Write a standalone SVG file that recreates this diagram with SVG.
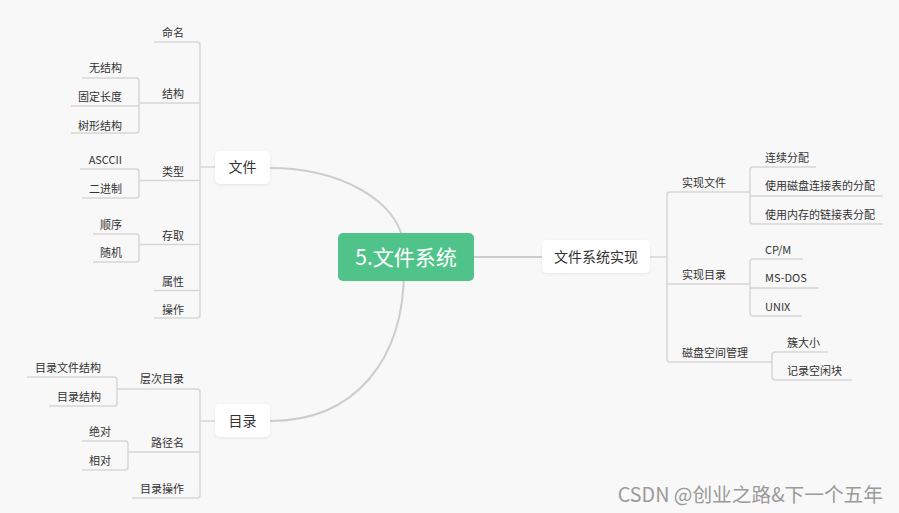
<svg xmlns="http://www.w3.org/2000/svg" width="899" height="513" viewBox="0 0 899 513">
<defs>
<style>
.bg{fill:#f8f8f8}
.ln{fill:none;stroke:#d6d6d6;stroke-width:1.5}
.cv{fill:none;stroke:#cdcdcd;stroke-width:2}
.box{fill:#ffffff}
.t{font-family:"Noto Sans CJK SC","Microsoft YaHei",sans-serif;font-size:11px;fill:#333333}
.tm{font-family:"Noto Sans CJK SC","Microsoft YaHei",sans-serif;font-size:14px;fill:#333333}
.tr{font-family:"Noto Sans CJK SC","Microsoft YaHei",sans-serif;font-size:21px;fill:#ffffff}
.e{text-anchor:end}
.wm{font-family:"Noto Sans CJK SC","Microsoft YaHei",sans-serif;font-size:19.7px;fill:#9a9a9a}
</style>
<filter id="sh" x="-20%" y="-30%" width="140%" height="160%">
<feDropShadow dx="0" dy="1" stdDeviation="1.5" flood-color="#000" flood-opacity="0.08"/>
</filter>
</defs>
<rect class="bg" x="0" y="0" width="899" height="513"/>

<g id="connectors">
<path class="cv" d="M270,168 C340,168 395,200 403,240"/>
<path class="cv" d="M404,270 C404,360 355,421 270,421"/>
<path class="cv" d="M474,257 H542"/>
<path class="ln" d="M154,42 H197 Q200,42 200,45 V315 Q200,318 197,318 H154"/>
<path class="ln" d="M200,167 H215"/>
<path class="ln" d="M139,103 H200"/>
<path class="ln" d="M139,180.5 H200"/>
<path class="ln" d="M139,244.5 H200"/>
<path class="ln" d="M154,290.5 H200"/>
<path class="ln" d="M82,78 H136 Q139,78 139,81 V130 Q139,133 136,133 H71"/>
<path class="ln" d="M71,106 H139"/>
<path class="ln" d="M80,169 H136 Q139,169 139,172 V195 Q139,198 136,198 H82"/>
<path class="ln" d="M93,234 H136 Q139,234 139,237 V259 Q139,262 136,262 H93"/>
<path class="ln" d="M133,389 H197 Q200,389 200,392 V495 Q200,498 197,498 H132"/>
<path class="ln" d="M200,421 H215"/>
<path class="ln" d="M128,452 H200"/>
<path class="ln" d="M117,389 H133"/>
<path class="ln" d="M27,377 H114 Q117,377 117,380 V403 Q117,406 114,406 H49"/>
<path class="ln" d="M82,441 H125 Q128,441 128,444 V467 Q128,470 125,470 H82"/>
<path class="ln" d="M650,257 H667"/>
<path class="ln" d="M750,192 H670 Q667,192 667,195 V359 Q667,362 670,362 H772"/>
<path class="ln" d="M667,284 H750"/>
<path class="ln" d="M816,167 H753 Q750,167 750,170 V221 Q750,224 753,224 H883"/>
<path class="ln" d="M750,196 H883"/>
<path class="ln" d="M803,259 H753 Q750,259 750,262 V313 Q750,316 753,316 H802"/>
<path class="ln" d="M750,288 H819"/>
<path class="ln" d="M828,352 H775 Q772,352 772,355 V377 Q772,380 775,380 H852"/>
</g>

<g id="root">
<rect x="338" y="233" width="136" height="48" rx="5" fill="#50c38b"/>
<text class="tr" x="406" y="264.5" text-anchor="middle">5.文件系统</text>
</g>

<g id="n-wenjian">
<rect class="box" x="215" y="151" width="55" height="33" rx="5" filter="url(#sh)"/>
<text class="tm" x="242.5" y="172" text-anchor="middle">文件</text>
</g>
<g id="n-mulu">
<rect class="box" x="215" y="404" width="55" height="33" rx="5" filter="url(#sh)"/>
<text class="tm" x="242.5" y="426" text-anchor="middle">目录</text>
</g>
<g id="n-shixian">
<rect class="box" x="542" y="240" width="108" height="33" rx="5" filter="url(#sh)"/>
<text class="tm" x="596" y="261.5" text-anchor="middle">文件系统实现</text>
</g>

<g id="n-mingming"><text class="t e" x="184" y="37">命名</text></g>
<g id="n-jiegou"><text class="t e" x="184" y="98">结构</text></g>
<g id="n-wujiegou"><text class="t e" x="122" y="72">无结构</text></g>
<g id="n-guding"><text class="t e" x="122" y="101">固定长度</text></g>
<g id="n-shuxing"><text class="t e" x="122" y="130">树形结构</text></g>
<g id="n-leixing"><text class="t e" x="184" y="176">类型</text></g>
<g id="n-ascii"><text class="t e" x="122" y="164">ASCCII</text></g>
<g id="n-erjinzhi"><text class="t e" x="122" y="193">二进制</text></g>
<g id="n-cunqu"><text class="t e" x="184" y="240">存取</text></g>
<g id="n-shunxu"><text class="t e" x="122" y="229">顺序</text></g>
<g id="n-suiji"><text class="t e" x="122" y="257">随机</text></g>
<g id="n-shuxing2"><text class="t e" x="184" y="286">属性</text></g>
<g id="n-caozuo"><text class="t e" x="184" y="314">操作</text></g>

<g id="n-cengci"><text class="t e" x="184" y="383">层次目录</text></g>
<g id="n-mlwjjg"><text class="t e" x="101" y="372">目录文件结构</text></g>
<g id="n-mljg"><text class="t e" x="101" y="401">目录结构</text></g>
<g id="n-lujing"><text class="t e" x="184" y="447">路径名</text></g>
<g id="n-juedui"><text class="t e" x="111" y="436">绝对</text></g>
<g id="n-xiangdui"><text class="t e" x="111" y="465">相对</text></g>
<g id="n-mlcz"><text class="t e" x="184" y="493">目录操作</text></g>

<g id="n-sxwj"><text class="t" x="682" y="187">实现文件</text></g>
<g id="n-lxfp"><text class="t" x="765" y="162">连续分配</text></g>
<g id="n-cplj"><text class="t" x="765" y="190">使用磁盘连接表的分配</text></g>
<g id="n-ncljb"><text class="t" x="765" y="219">使用内存的链接表分配</text></g>
<g id="n-sxml"><text class="t" x="682" y="279">实现目录</text></g>
<g id="n-cpm"><text class="t" x="765" y="254">CP/M</text></g>
<g id="n-msdos"><text class="t" x="765" y="282">MS-DOS</text></g>
<g id="n-unix"><text class="t" x="765" y="311">UNIX</text></g>
<g id="n-cpkj"><text class="t" x="682" y="357">磁盘空间管理</text></g>
<g id="n-cudx"><text class="t" x="787" y="347">簇大小</text></g>
<g id="n-jlkx"><text class="t" x="787" y="375">记录空闲块</text></g>

<text class="wm" x="883" y="502" text-anchor="end">CSDN @创业之路&amp;下一个五年</text>
</svg>
